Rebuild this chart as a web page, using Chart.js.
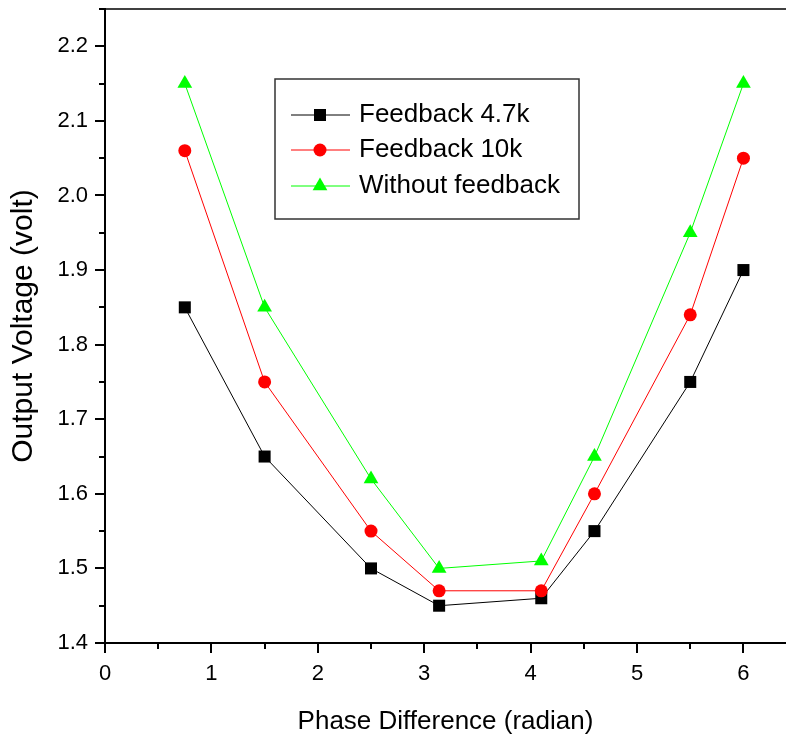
<!DOCTYPE html>
<html>
<head>
<meta charset="utf-8">
<title>Output Voltage vs Phase Difference</title>
<script src="https://cdn.jsdelivr.net/npm/chart.js@4/dist/chart.umd.min.js"></script>
<style>
  html, body { margin: 0; padding: 0; background: #fff; overflow: hidden; }
  #phaseChart { display: block; }
</style>
</head>
<body>
<canvas id="phaseChart" width="786" height="740"></canvas>
<script>
// Data
const phaseDiff = [0.75, 1.5, 2.5, 3.14, 4.1, 4.6, 5.5, 6.0];
const feedback47k = [1.85, 1.65, 1.50, 1.45, 1.46, 1.55, 1.75, 1.90];
const feedback10k = [2.06, 1.75, 1.55, 1.47, 1.47, 1.60, 1.84, 2.05];
const noFeedback = [2.15, 1.85, 1.62, 1.50, 1.51, 1.65, 1.95, 2.15];
const seriesLabels = ['Feedback 4.7k', 'Feedback 10k', 'Without feedback'];

const FONT = "'Liberation Sans', Arial, sans-serif";

function toPoints(ys) {
  return phaseDiff.map((x, i) => ({ x: x, y: ys[i] }));
}

// no extra room for half-labels at the ends of the axes
function noEdgePadding(scale) {
  scale.paddingTop = 0;
  scale.paddingBottom = 0;
  scale.paddingLeft = 0;
  scale.paddingRight = 0;
}

// outward major/minor tick marks + thin top frame line
const axisTicks = {
  id: 'axisTicks',
  afterDraw(chart) {
    const ctx = chart.ctx;
    const area = chart.chartArea;
    const xs = chart.scales.x;
    const ys = chart.scales.y;
    ctx.save();
    ctx.strokeStyle = '#000';
    ctx.lineWidth = 2;
    ctx.beginPath();
    for (let i = 0; i * 0.5 <= xs.max + 1e-9; i++) {
      const px = Math.round(xs.getPixelForValue(i * 0.5));
      const len = i % 2 === 0 ? 10 : 6;
      ctx.moveTo(px, area.bottom);
      ctx.lineTo(px, area.bottom + len);
    }
    for (let i = 0; ys.min + i * 0.05 <= ys.max + 1e-9; i++) {
      const py = Math.round(ys.getPixelForValue(ys.min + i * 0.05));
      const len = i % 2 === 0 ? 10 : 6;
      ctx.moveTo(area.left, py);
      ctx.lineTo(area.left - len, py);
    }
    ctx.stroke();
    ctx.lineWidth = 1.5;
    ctx.beginPath();
    ctx.moveTo(area.left, area.top);
    ctx.lineTo(chart.width, area.top);
    ctx.stroke();
    ctx.restore();
  }
};

// boxed legend inside the plot, like the original
const boxLegend = {
  id: 'boxLegend',
  afterDraw(chart) {
    const ctx = chart.ctx;
    const box = { x: 275, y: 79, w: 304, h: 140 };
    const rows = [115, 150, 186];
    ctx.save();
    ctx.strokeStyle = '#333';
    ctx.lineWidth = 1.5;
    ctx.strokeRect(box.x, box.y, box.w, box.h);
    chart.data.datasets.forEach((ds, i) => {
      const y = rows[i];
      ctx.strokeStyle = ds.borderColor;
      ctx.lineWidth = 1;
      ctx.beginPath();
      ctx.moveTo(291, y);
      ctx.lineTo(350, y);
      ctx.stroke();
      ctx.fillStyle = ds.pointBackgroundColor;
      if (Chart.helpers && Chart.helpers.drawPoint) {
        Chart.helpers.drawPoint(ctx, { pointStyle: ds.pointStyle, radius: ds.pointRadius, rotation: 0, borderWidth: 0 }, 320, y);
      } else {
        ctx.beginPath();
        ctx.arc(320, y, 6, 0, Math.PI * 2);
        ctx.fill();
      }
      ctx.fillStyle = '#000';
      ctx.font = '26px ' + FONT;
      ctx.textBaseline = 'middle';
      ctx.textAlign = 'left';
      ctx.fillText(ds.label, 359, y);
    });
    ctx.restore();
  }
};

const ctx = document.getElementById('phaseChart');
const phaseChart = new Chart(ctx, {
  type: 'scatter',
  data: {
    datasets: [
      {
        label: seriesLabels[0],
        data: toPoints(feedback47k),
        showLine: true,
        borderColor: '#000000',
        borderWidth: 1,
        pointStyle: 'rect',
        pointRadius: 8.5,
        pointBackgroundColor: '#000000',
        pointBorderWidth: 0,
        order: 3
      },
      {
        label: seriesLabels[1],
        data: toPoints(feedback10k),
        showLine: true,
        borderColor: '#ff0000',
        borderWidth: 1,
        pointStyle: 'circle',
        pointRadius: 6.5,
        pointBackgroundColor: '#ff0000',
        pointBorderWidth: 0,
        order: 2
      },
      {
        label: seriesLabels[2],
        data: toPoints(noFeedback),
        showLine: true,
        borderColor: '#00ff00',
        borderWidth: 1,
        pointStyle: 'triangle',
        pointRadius: 8.5,
        pointBackgroundColor: '#00ff00',
        pointBorderWidth: 0,
        order: 1
      }
    ]
  },
  options: {
    responsive: false,
    animation: false,
    events: [],
    layout: { autoPadding: false, padding: { top: 9, right: 0, left: 0, bottom: 0 } },
    plugins: {
      legend: { display: false },
      tooltip: { enabled: false }
    },
    scales: {
      x: {
        type: 'linear',
        min: 0,
        max: 6.4,
        afterFit(scale) { scale.height = 97; noEdgePadding(scale); },
        grid: { display: false, drawTicks: false },
        border: { display: true, color: '#000', width: 2 },
        ticks: {
          stepSize: 1,
          includeBounds: false,
          padding: 18,
          color: '#000',
          font: { family: FONT, size: 22 }
        },
        title: {
          display: true,
          text: 'Phase Difference (radian)',
          color: '#000',
          font: { family: FONT, size: 26 },
          padding: { top: 0, bottom: 3 }
        }
      },
      y: {
        type: 'linear',
        min: 1.4,
        max: 2.25,
        afterFit(scale) { scale.width = 105; noEdgePadding(scale); },
        grid: { display: false, drawTicks: false },
        border: { display: true, color: '#000', width: 2 },
        ticks: {
          stepSize: 0.1,
          includeBounds: false,
          padding: 17,
          color: '#000',
          font: { family: FONT, size: 22 },
          callback: (v) => v.toFixed(1)
        },
        title: {
          display: true,
          text: 'Output Voltage (volt)',
          color: '#000',
          font: { family: FONT, size: 30 },
          padding: { top: 6, bottom: 0 }
        }
      }
    }
  },
  plugins: [axisTicks, boxLegend]
});
</script>
</body>
</html>
